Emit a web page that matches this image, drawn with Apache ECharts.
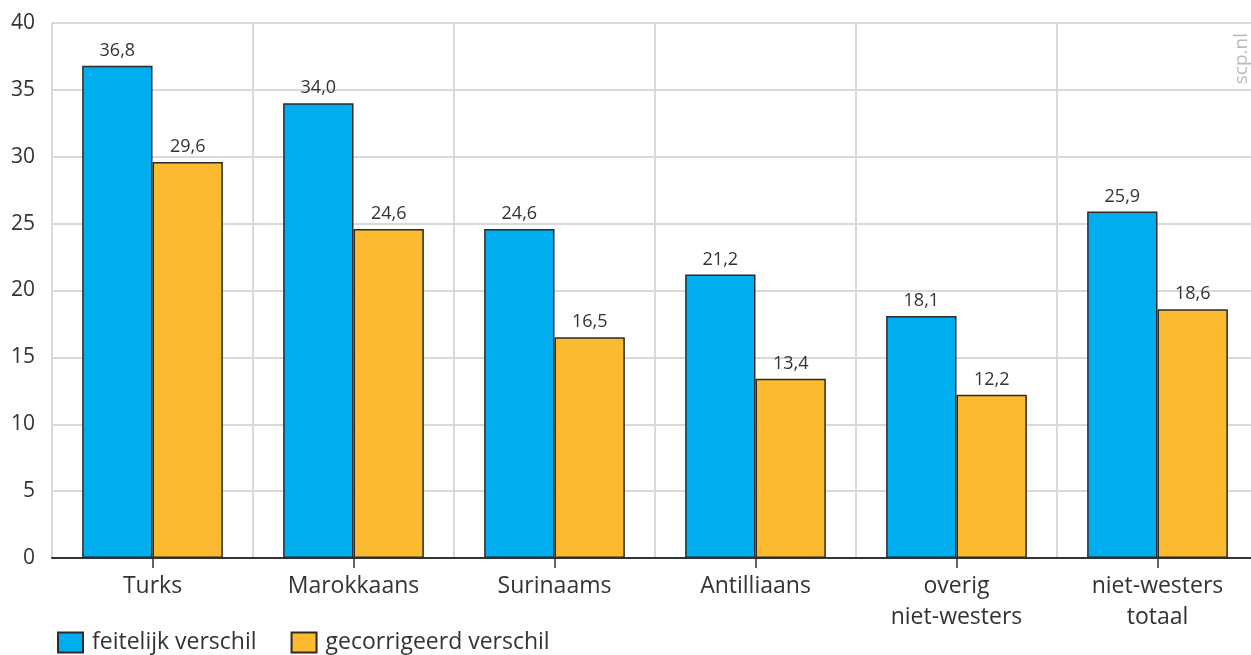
<!DOCTYPE html>
<html>
<head>
<meta charset="utf-8">
<script src="https://cdn.jsdelivr.net/npm/echarts@6/dist/echarts.min.js"></script>
<style>
html,body{margin:0;padding:0;background:#fff;overflow:hidden;width:1251px;height:655px;}
#chart{width:1258px;height:655px;}
</style>
</head>
<body>
<div id="chart"></div>
<script>
var categories = ['Turks', 'Marokkaans', 'Surinaams', 'Antilliaans', 'overig\nniet-westers', 'niet-westers\ntotaal'];
var feitelijk = [36.8, 34.0, 24.6, 21.2, 18.1, 25.9];
var gecorrigeerd = [29.6, 24.6, 16.5, 13.4, 12.2, 18.6];
var seriesNames = ['feitelijk verschil', 'gecorrigeerd verschil'];
var yTicks = { min: 0, max: 40, interval: 5 };

var FONT = '"Open Sans", "Noto Sans", sans-serif';
var chart = echarts.init(document.getElementById('chart'), null, { renderer: 'canvas' });

function fmt(p) { return p.value.toFixed(1).replace('.', ','); }

var labelStyle = {
  show: true, position: 'top', distance: 6,
  color: '#333', fontSize: 18, fontFamily: FONT,
  formatter: fmt
};

chart.setOption({
  animation: false,
  textStyle: { fontFamily: FONT },
  grid: { left: 52, top: 23, right: 0, height: 535, containLabel: false },
  legend: {
    left: 52, top: 626, icon: 'rect',
    itemWidth: 25, itemHeight: 20, itemGap: 34,
    textStyle: { color: '#333', fontSize: 23, fontFamily: FONT, padding: [0, 0, 0, 4] },
    data: seriesNames
  },
  graphic: [{
    type: 'text',
    left: 1232, top: 33,
    rotation: Math.PI / 2,
    style: { text: 'scp.nl', fill: '#bbbbbb', fontSize: 19, fontFamily: FONT }
  }],
  xAxis: {
    type: 'category',
    data: categories,
    axisLine: { lineStyle: { color: '#333', width: 2 } },
    axisTick: { show: true, alignWithLabel: true, length: 10, lineStyle: { color: '#333', width: 1.5 } },
    axisLabel: { color: '#333', fontSize: 23, fontFamily: FONT, margin: 13, lineHeight: 31, interval: 0 },
    splitLine: { show: true, lineStyle: { color: '#d9d9d9', width: 2 } }
  },
  yAxis: {
    type: 'value',
    min: yTicks.min, max: yTicks.max, interval: yTicks.interval,
    axisLine: { show: false },
    axisTick: { show: false },
    axisLabel: { color: '#333', fontSize: 21, fontFamily: FONT, margin: 17 },
    splitLine: { show: true, lineStyle: { color: '#d9d9d9', width: 2 } }
  },
  series: [
    {
      name: seriesNames[0], type: 'bar', data: feitelijk,
      barGap: '0%', barCategoryGap: '30%',
      itemStyle: { color: '#00adee', borderColor: '#2b2b2b', borderWidth: 1.5 },
      label: labelStyle
    },
    {
      name: seriesNames[1], type: 'bar', data: gecorrigeerd,
      barGap: '0%', barCategoryGap: '30%',
      itemStyle: { color: '#fbba30', borderColor: '#2b2b2b', borderWidth: 1.5 },
      label: labelStyle
    }
  ]
});
</script>
</body>
</html>
